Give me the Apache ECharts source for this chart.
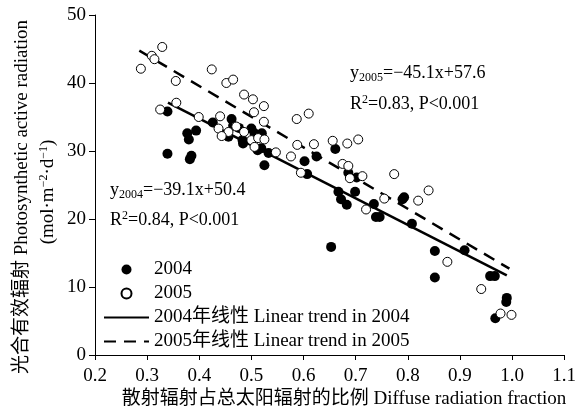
<!DOCTYPE html>
<html>
<head>
<meta charset="utf-8">
<script src="https://cdn.jsdelivr.net/npm/echarts@6/dist/echarts.min.js"></script>
<style>
html, body { margin: 0; padding: 0; background: #fff; }
#chart { width: 579px; height: 414px; }
</style>
</head>
<body>
<div id="chart"></div>
<script>
// points: [diffuse fraction, PAR]
const points2004 = [
    [0.339, 35.8], [0.377, 32.6], [0.394, 33.0], [0.380, 31.7], [0.339, 29.6],
    [0.382, 28.8], [0.385, 29.3], [0.426, 34.2], [0.462, 34.7], [0.465, 33.7],
    [0.476, 33.4], [0.500, 33.3], [0.506, 32.6], [0.520, 32.6], [0.484, 31.1],
    [0.456, 32.1], [0.483, 31.6], [0.519, 30.4], [0.533, 29.7], [0.525, 27.9],
    [0.512, 30.1], [0.661, 30.3], [0.602, 28.5], [0.625, 29.2], [0.607, 26.6],
    [0.686, 26.8], [0.702, 26.1], [0.667, 24.0], [0.672, 22.9], [0.683, 22.1],
    [0.699, 24.0], [0.735, 22.2], [0.739, 20.3], [0.746, 20.3], [0.790, 22.9],
    [0.793, 23.2], [0.808, 19.3], [0.653, 15.9], [0.852, 15.3], [0.852, 11.4],
    [0.909, 15.4], [0.958, 11.6], [0.967, 11.6], [0.989, 7.8], [0.990, 8.4],
    [0.968, 5.4]
];
const points2005 = [
    [0.288, 42.1], [0.309, 44.0], [0.314, 43.5], [0.329, 45.3], [0.355, 40.3],
    [0.424, 42.0], [0.452, 40.0], [0.465, 40.5], [0.486, 38.3], [0.503, 37.6],
    [0.524, 36.6], [0.505, 35.7], [0.356, 37.1], [0.325, 36.1], [0.399, 35.0],
    [0.587, 34.7], [0.524, 34.3], [0.440, 35.1], [0.437, 33.3], [0.456, 32.8],
    [0.443, 32.2], [0.471, 33.6], [0.486, 32.8], [0.500, 31.6], [0.513, 31.9],
    [0.525, 31.7], [0.506, 30.6], [0.547, 29.8], [0.576, 29.2], [0.588, 30.9],
    [0.610, 35.5], [0.620, 31.0], [0.656, 31.5], [0.684, 31.1], [0.705, 31.7],
    [0.595, 26.8], [0.675, 28.1], [0.686, 27.8], [0.689, 26.0], [0.713, 26.3],
    [0.774, 26.6], [0.755, 23.0], [0.720, 21.4], [0.820, 22.7], [0.840, 24.2],
    [0.876, 13.7], [0.941, 9.7], [0.978, 6.1], [0.999, 5.9]
];
// trend line ends (y = -39.1x + 50.4 and y = -45.1x + 57.6)
const trend2004 = [[0.34, 37.1], [0.99, 11.7]];
const trend2005 = [[0.285, 44.75], [0.995, 12.7]];

const seriesNames = ['2004', '2005', '2004年线性 Linear trend in 2004', '2005年线性 Linear trend in 2005'];
const xTicks = [0.2, 1.1, 0.1];
const yTicks = [0, 50, 10];

const FONT = "'Liberation Serif', 'Noto Sans CJK SC', serif";

function eqText(left, top, txt) {
    return {
        type: 'text', left: left, top: top,
        style: {
            text: txt,
            rich: {
                n: { fontFamily: FONT, fontSize: 18, fill: '#000' },
                s: { fontFamily: FONT, fontSize: 12, fill: '#000', padding: [10, 0, 0, 0] },
                p: { fontFamily: FONT, fontSize: 12, fill: '#000', padding: [0, 0, 8, 0] }
            }
        }
    };
}

let myChart = echarts.init(document.getElementById('chart'));
let option = {
    animation: false,
    backgroundColor: '#fff',
    grid: { left: 95, right: 9, top: 15, bottom: 59 },
    xAxis: {
        type: 'value',
        min: xTicks[0], max: xTicks[1], interval: xTicks[2],
        splitLine: { show: false },
        axisLine: { onZero: false, lineStyle: { color: '#000', width: 1 } },
        axisTick: { show: true, length: 5, lineStyle: { color: '#000' } },
        axisLabel: {
            color: '#000', fontFamily: FONT, fontSize: 19, margin: 12,
            formatter: v => v.toFixed(1)
        }
    },
    yAxis: {
        type: 'value',
        min: yTicks[0], max: yTicks[1], interval: yTicks[2],
        splitLine: { show: false },
        axisLine: { show: true, lineStyle: { color: '#000', width: 1 } },
        axisTick: { show: true, length: 6, lineStyle: { color: '#000' } },
        axisLabel: { color: '#000', fontFamily: FONT, fontSize: 19, margin: 9 }
    },
    legend: {
        orient: 'vertical',
        left: 103, top: 260, padding: 0,
        itemWidth: 45, itemHeight: 10, itemGap: 5,
        textStyle: { color: '#000', fontFamily: FONT, fontSize: 19 },
        data: [
            { name: seriesNames[0] },
            { name: seriesNames[1] },
            { name: seriesNames[2], itemStyle: { opacity: 0 } },
            { name: seriesNames[3], itemStyle: { opacity: 0 } }
        ]
    },
    series: [
        {
            name: seriesNames[0], type: 'scatter', data: points2004,
            symbol: 'circle', symbolSize: 10,
            itemStyle: { color: '#000', opacity: 1 }
        },
        {
            name: seriesNames[1], type: 'scatter', data: points2005,
            symbol: 'circle', symbolSize: 9,
            itemStyle: { color: '#fff', borderColor: '#000', borderWidth: 1, opacity: 1 }
        },
        {
            name: seriesNames[2], type: 'line', data: trend2004,
            symbol: 'none', lineStyle: { color: '#000', width: 2.5 },
            itemStyle: { color: '#000' }, z: 1
        },
        {
            name: seriesNames[3], type: 'line', data: trend2005,
            symbol: 'none', lineStyle: { color: '#000', width: 2.5, type: [12, 8] },
            itemStyle: { color: '#000' }, z: 1
        }
    ],
    graphic: [
        eqText(110, 181, '{n|y}{s|2004}{n|=−39.1x+50.4}'),
        eqText(110, 210, '{n|R}{p|2}{n|=0.84, P<0.001}'),
        eqText(350, 64, '{n|y}{s|2005}{n|=−45.1x+57.6}'),
        eqText(350, 94, '{n|R}{p|2}{n|=0.83, P<0.001}'),
        {
            type: 'text', x: 22, y: 197, rotation: Math.PI / 2,
            style: {
                text: '光合有效辐射 Photosynthetic active radiation',
                fontFamily: FONT, fontSize: 19, fill: '#000',
                align: 'center', verticalAlign: 'middle'
            }
        },
        {
            type: 'text', x: 48, y: 192, rotation: Math.PI / 2,
            style: {
                text: '{n|(mol·m}{p|−2}{n|·d}{p|−1}{n|)}',
                align: 'center', verticalAlign: 'middle',
                rich: {
                    n: { fontFamily: FONT, fontSize: 19, fill: '#000' },
                    p: { fontFamily: FONT, fontSize: 12, fill: '#000', padding: [0, 0, 8, 0] }
                }
            }
        },
        {
            type: 'text', x: 344, y: 399,
            style: {
                text: '散射辐射占总太阳辐射的比例 Diffuse radiation fraction',
                fontFamily: FONT, fontSize: 19, fill: '#000',
                align: 'center', verticalAlign: 'middle'
            }
        }
    ]
};
myChart.setOption(option);
</script>
</body>
</html>
